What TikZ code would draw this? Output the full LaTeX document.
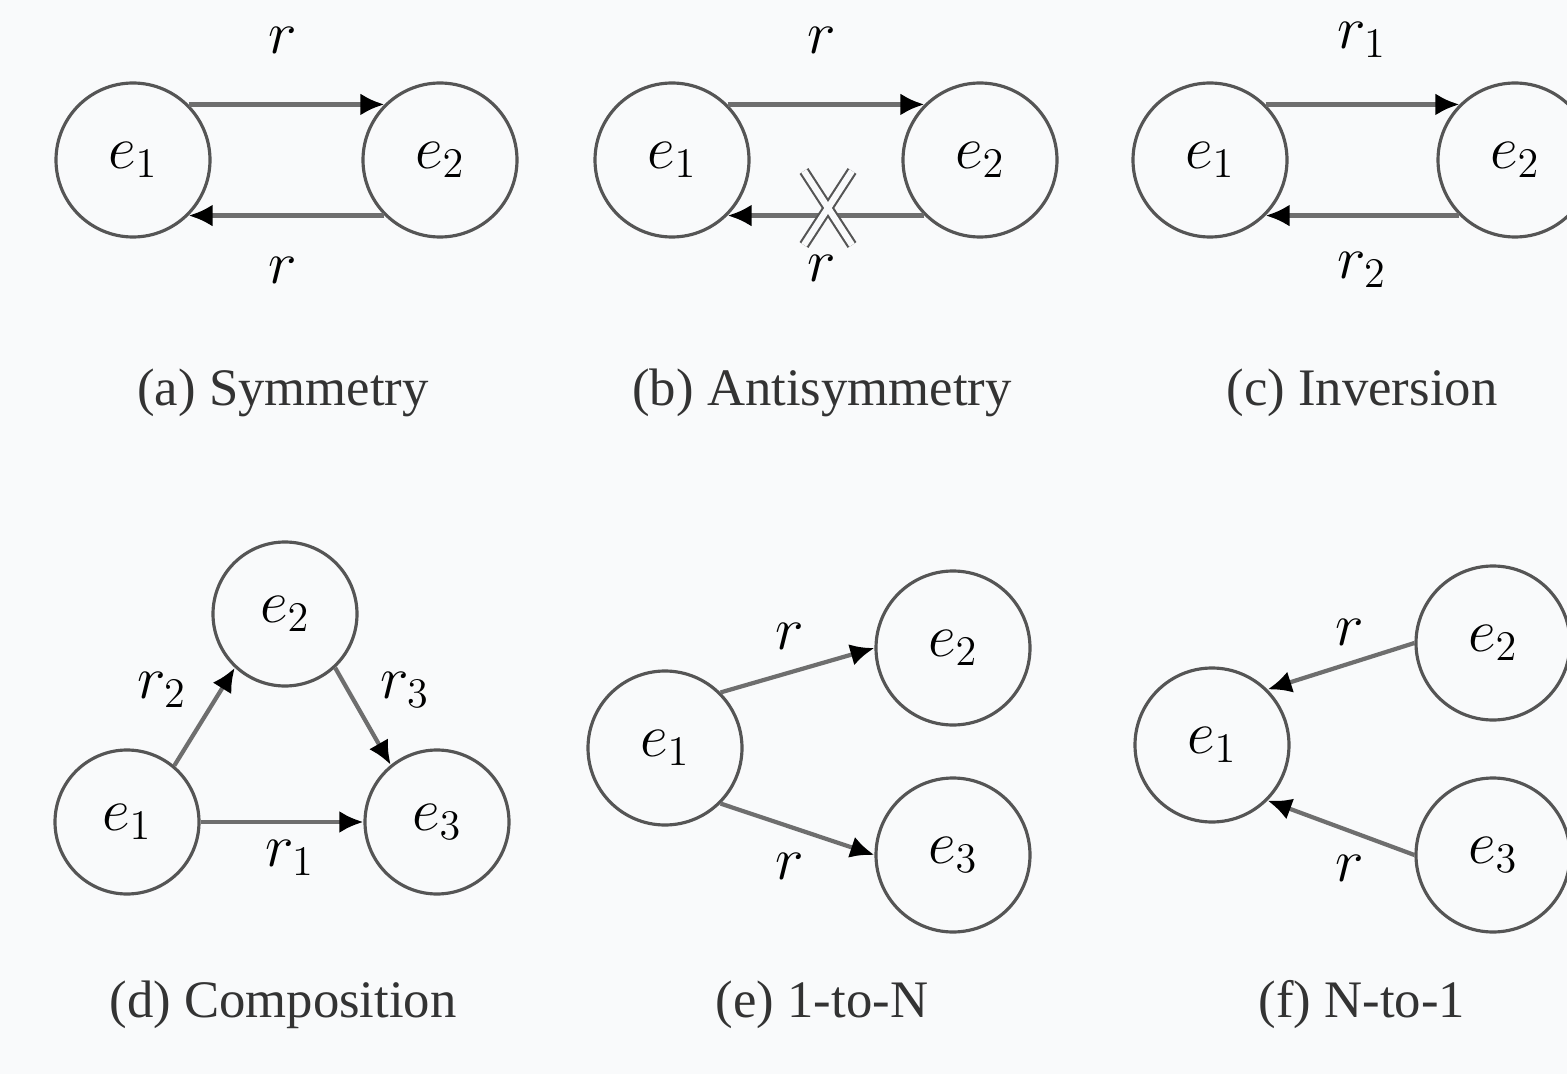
\documentclass[tikz,border=0pt]{standalone}
\usepackage{amsmath,amssymb}
\usepackage{fontspec}
\setmainfont{Liberation Serif}
\usetikzlibrary{arrows.meta}
\definecolor{bgpaper}{RGB}{249,250,251}
\definecolor{inkgray}{RGB}{85,85,85}

\begin{document}
\begin{tikzpicture}[
    >={Latex[length=2.4mm,width=2.2mm,black]},
    ent/.style={circle, draw=inkgray, line width=0.9pt, minimum size=1.54cm, inner sep=0pt, font=\fontsize{17}{20}\selectfont},
    rel/.style={->, draw=inkgray!85, line width=1.2pt},
    lab/.style={font=\fontsize{17}{20}\selectfont, inner sep=1pt},
    subcap/.style={font=\fontsize{15}{18}\selectfont, text=black!80}
]

\fill[bgpaper] (0,0) rectangle (15.67,-10.74);
\useasboundingbox (0,0) rectangle (15.67,-10.74);

% (a) symmetry
\node[ent] (a1) at (1.33,-1.60) {$e_1$};
\node[ent] (a2) at (4.40,-1.60) {$e_2$};
\draw[rel] (a1.45) -- (a2.135);
\draw[rel] (a2.-135) -- (a1.-45);
\node[lab] (ar1) at (2.83,-0.40) {$r$};
\node[lab] (ar2) at (2.83,-2.70) {$r$};
\node[subcap] (acap) at (2.83,-3.93) {(a) Symmetry};

% (b) antisymmetry
\node[ent] (b1) at (6.72,-1.60) {$e_1$};
\node[ent] (b2) at (9.80,-1.60) {$e_2$};
\draw[rel] (b1.45) -- (b2.135);
\draw[rel] (b2.-135) -- (b1.-45);
\coordinate (bx) at (8.28,-2.08);
\draw[inkgray, line width=0.6pt, double=bgpaper, double distance=1.8pt]
    ([shift={(-0.24,0.37)}]bx) -- ([shift={(0.24,-0.37)}]bx)
    ([shift={(0.24,0.37)}]bx) -- ([shift={(-0.24,-0.37)}]bx);
\node[lab] (br1) at (8.22,-0.40) {$r$};
\node[lab] (br2) at (8.22,-2.68) {$r$};
\node[subcap] (bcap) at (8.22,-3.93) {(b) Antisymmetry};

% (c) inversion
\node[ent] (c1) at (12.10,-1.60) {$e_1$};
\node[ent] (c2) at (15.15,-1.60) {$e_2$};
\draw[rel] (c1.45) -- (c2.135);
\draw[rel] (c2.-135) -- (c1.-45);
\node[lab] (cr1) at (13.62,-0.40) {$r_1$};
\node[lab] (cr2) at (13.62,-2.70) {$r_2$};
\node[subcap] (ccap) at (13.62,-3.93) {(c) Inversion};

% (d) composition
\node[ent, minimum size=1.44cm] (d1) at (1.27,-8.22) {$e_1$};
\node[ent, minimum size=1.44cm] (d2) at (2.85,-6.14) {$e_2$};
\node[ent, minimum size=1.44cm] (d3) at (4.37,-8.22) {$e_3$};
\draw[rel] (d1.50) -- (d2.-133);
\draw[rel] (d2.-47) -- (d3.129);
\draw[rel] (d1) -- (d3);
\node[lab] (dr2) at (1.62,-6.90) {$r_2$};
\node[lab] (dr3) at (4.05,-6.90) {$r_3$};
\node[lab] (dr1) at (2.90,-8.58) {$r_1$};
\node[subcap] (dcap) at (2.83,-10.05) {(d) Composition};

% (e) 1-to-N
\node[ent] (e1) at (6.65,-7.48) {$e_1$};
\node[ent] (e2) at (9.53,-6.48) {$e_2$};
\node[ent] (e3) at (9.53,-8.55) {$e_3$};
\draw[rel] (e1.45) -- (e2.west);
\draw[rel] (e1.-45) -- (e3.west);
\node[lab] (er1) at (7.90,-6.36) {$r$};
\node[lab] (er2) at (7.90,-8.66) {$r$};
\node[subcap] (ecap) at (8.22,-10.05) {(e) 1-to-N};

% (f) N-to-1
\node[ent] (f1) at (12.12,-7.45) {$e_1$};
\node[ent] (f2) at (14.93,-6.43) {$e_2$};
\node[ent] (f3) at (14.93,-8.55) {$e_3$};
\draw[rel] (f2.west) -- (f1.45);
\draw[rel] (f3.west) -- (f1.-45);
\node[lab] (fr1) at (13.50,-6.32) {$r$};
\node[lab] (fr2) at (13.50,-8.68) {$r$};
\node[subcap] (fcap) at (13.62,-10.05) {(f) N-to-1};

\end{tikzpicture}
\end{document}
